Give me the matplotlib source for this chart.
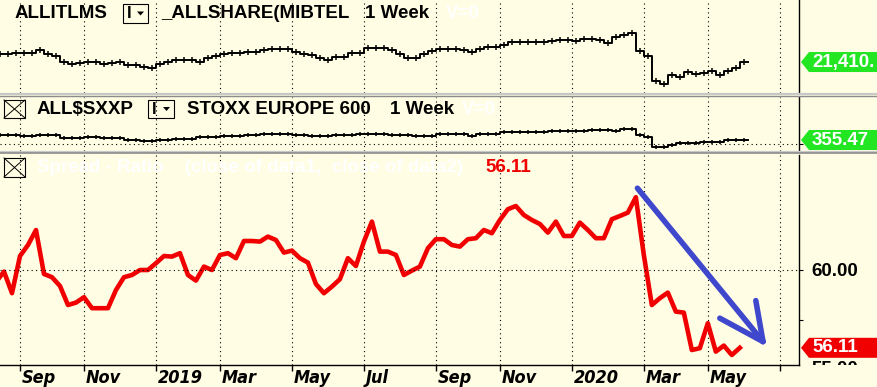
import numpy as np
import pandas as pd
import matplotlib
matplotlib.use('Agg')
import matplotlib.pyplot as plt
from matplotlib.patches import Rectangle, Polygon
from matplotlib.lines import Line2D
from matplotlib.transforms import Bbox

# weekly closes, first bar = 2018-08-17
first_week = '2018-08-17'

allshare = [22950, 22950, 23290, 23290, 23290, 23750, 23090, 22610, 21410, 21090,
            21290, 21490, 21490, 21090, 21150, 21410, 20890, 20750, 20410, 20150,
            20950, 21410, 21750, 21750, 21750, 21490, 22290, 22610, 23090, 23290,
            23290, 23490, 23490, 23750, 24090, 24090, 23950, 23410, 23090, 22810,
            22290, 21750, 22490, 22490, 23290, 23290, 24150, 24150, 24150, 23810,
            22950, 22290, 22290, 22950, 23610, 24090, 24090, 24090, 23810, 23410,
            24090, 24490, 24490, 24950, 25490, 25490, 25490, 25490, 25490, 25610,
            25950, 25950, 25690, 26150, 26150, 25950, 25290, 26490, 26950, 27290,
            23610, 22610, 17610, 16950, 18750, 18290, 19410, 18950, 19290, 19610,
            18750, 19610, 20290, 21410]

stoxx = [393, 393, 393, 385, 385, 395, 395, 391, 368, 368,
         368, 376, 376, 368, 368, 368, 355, 355, 346, 346,
         355, 355, 365, 365, 365, 380, 380, 380, 388, 388,
         388, 393, 393, 400, 400, 400, 400, 393, 393, 385,
         385, 385, 391, 391, 391, 400, 400, 400, 400, 391,
         391, 391, 385, 385, 385, 398, 398, 398, 398, 388,
         400, 400, 400, 413, 413, 413, 413, 413, 413, 425,
         425, 425, 425, 425, 433, 433, 433, 423, 438, 438,
         393, 378, 305, 305, 318, 335, 335, 335, 343, 343,
         343, 352, 354, 355.47]

spread = [59.40, 59.92, 58.84, 60.70, 61.25, 62.00, 59.80, 59.64, 59.20, 58.25,
          58.37, 58.64, 58.09, 58.09, 58.09, 59.00, 59.64, 59.75, 60.00, 60.00,
          60.34, 60.70, 60.67, 60.84, 59.75, 59.47, 60.17, 60.00, 60.75, 60.84,
          60.59, 61.45, 61.45, 61.42, 61.67, 61.50, 60.87, 60.97, 60.59, 60.37,
          59.30, 58.84, 59.17, 59.54, 60.59, 60.20, 61.42, 62.42, 60.92, 60.92,
          60.75, 59.75, 59.97, 60.17, 61.09, 61.54, 61.54, 61.25, 61.17, 61.54,
          61.59, 62.00, 61.84, 62.50, 63.04, 63.20, 62.75, 62.50, 62.30, 61.87,
          62.42, 61.70, 61.70, 62.37, 62.00, 61.59, 61.59, 62.54, 62.70, 62.87,
          63.64, 60.75, 58.25, 58.59, 58.87, 57.92, 57.87, 56.00, 56.09, 57.34,
          55.92, 56.22, 55.75, 56.11]

W, H = 878, 387
BG = '#FFFDE3'
GREEN = '#22E622'
RED = '#F00000'
BOLD = dict(family=['Liberation Sans', 'DejaVu Sans'], fontweight='bold')

n = len(spread)
x = np.arange(n)
weeks = pd.date_range(first_week, periods=101, freq='7D')

# first bar of every odd month -> vertical grid
tick_idx = [i for i in range(1, len(weeks))
            if weeks[i].month != weeks[i - 1].month and weeks[i].month % 2 == 1]


def fx(px):
    return px / W


def fy(py):
    return 1 - py / H


fig = plt.figure(figsize=(W / 100, H / 100), dpi=100, facecolor=BG)


def add_panel(top, bottom):
    ax = fig.add_axes([0, fy(bottom), 799 / W, (bottom - top) / H])
    ax.set_facecolor(BG)
    for s in ['top', 'left', 'bottom']:
        ax.spines[s].set_visible(False)
    ax.spines['right'].set_linewidth(1)
    ax.set_xlim(0.5, 100.4)
    ax.set_xticks(tick_idx)
    ax.grid(axis='x', color='black', linestyle=(0, (1, 3)), lw=0.8)
    ax.tick_params(axis='x', length=0, labelbottom=False)
    ax.set_yticks([])
    return ax


def step_line(ax, vals, ms):
    xs = np.append(x, x[-1] + 1)
    ys = np.append(vals, vals[-1])
    ax.plot(xs, ys, drawstyle='steps-post', color='black', lw=1.4)
    ax.plot(x + 0.5, vals, ls='none', marker='|', ms=ms, mew=1.1, color='black')


# top panel
ax1 = add_panel(0, 93)
step_line(ax1, allshare, 4)
ax1.set_ylim(15150, 33950)

# middle panel
ax2 = add_panel(97, 151)
step_line(ax2, stoxx, 3)
ax2.set_ylim(273, 678)
ax2.axhline(325, color='black', linestyle=(0, (1, 3)), lw=0.8)
ax2.set_yticks([325])
ax2.yaxis.tick_right()
ax2.tick_params(axis='y', length=3, labelright=False)

# spread panel
ax3 = add_panel(155, 365)
ax3.spines['bottom'].set_visible(True)
ax3.spines['bottom'].set_linewidth(1)
ax3.plot(x, spread, color=RED, lw=3.3, solid_joinstyle='round')
ax3.set_ylim(55.25, 65.75)
ax3.axhline(60, color='black', linestyle=(0, (1, 3)), lw=0.8)
ax3.yaxis.tick_right()
ax3.set_yticks([57.5, 60])
ax3.set_yticklabels(['', '60.00'])
ax3.tick_params(axis='y', length=3, pad=6, labelsize=13.5)
for t in ax3.get_yticklabels():
    t.set_fontweight('bold')
    t.set_family(['Liberation Sans', 'DejaVu Sans'])
ax3.tick_params(axis='x', length=4, width=1, direction='out')

for i in tick_idx:
    if i >= n:
        continue
    d = weeks[i]
    lab = str(d.year) if d.month == 1 else d.strftime('%b')
    ax3.annotate(lab, xy=(i, 0), xycoords=('data', 'axes fraction'),
                 xytext=(1.5, -3), textcoords='offset points', ha='left', va='top',
                 fontsize=13, fontweight='bold', fontstyle='italic', fontstretch='condensed',
                 family=['DejaVu Sans'], annotation_clip=False)

# hand-drawn downward arrow
arrow_kw = dict(color='#3F48CC', lw=4, solid_capstyle='round', clip_on=False)
ax3.plot([80.2, 95.9], [64.09, 56.42], **arrow_kw)
ax3.plot([90.5, 95.9], [57.59, 56.42], **arrow_kw)
ax3.plot([95.0, 95.9], [58.47, 56.42], **arrow_kw)

# panel separators
for py, col, lw in [(94.2, '#C8C8C8', 1.6), (95.8, '#8C8C8C', 1.0),
                    (151.8, '#C8C8C8', 1.6), (153.4, '#8C8C8C', 1.2)]:
    fig.add_artist(Line2D([0, 1], [fy(py)] * 2, transform=fig.transFigure, color=col, lw=lw))


def ypix(ax, value):
    return H - ax.transData.transform((0, value))[1]


# partly hidden 55.00 label, clipped at the panel bottom
t55 = fig.text(fx(811), fy(ypix(ax3, 55.0)), '55.00', va='center', ha='left',
               fontsize=13.5, zorder=5, **BOLD)
t55.set_clip_on(True)
t55.set_clip_box(Bbox([[800, H - 365], [W, H - 155]]))


def price_tag(ax, value, text, color):
    yp = ypix(ax, value)
    pts = [(801, yp), (809, yp - 10), (W + 2, yp - 10), (W + 2, yp + 10), (809, yp + 10)]
    fig.add_artist(Polygon([(fx(a), fy(b)) for a, b in pts], closed=True,
                           transform=fig.transFigure, fc=color, ec='none', zorder=6))
    fig.text(fx(812), fy(yp), text, color='white', va='center', ha='left',
             fontsize=13.5, zorder=7, **BOLD)


price_tag(ax1, allshare[-1], f'{allshare[-1]:,}.', GREEN)
price_tag(ax2, stoxx[-1], f'{stoxx[-1]:.2f}', GREEN)
price_tag(ax3, spread[-1], f'{spread[-1]:.2f}', RED)


def box(x0, y0, x1, y1, cross=False):
    fig.add_artist(Rectangle((fx(x0), fy(y1)), fx(x1 - x0), (y1 - y0) / H,
                             transform=fig.transFigure, fill=False, ec='black', lw=0.8))
    if cross:
        for a, b in [((x0, y0), (x1, y1)), ((x0, y1), (x1, y0))]:
            fig.add_artist(Line2D([fx(a[0]), fx(b[0])], [fy(a[1]), fy(b[1])],
                                  transform=fig.transFigure, color='black', lw=0.7))


def dropdown(x0, y0, x1, y1):
    box(x0, y0, x1, y1)
    yc = (y0 + y1) / 2
    fig.text(fx(x0 + 4), fy(yc), 'I', va='center', ha='left', fontsize=12, **BOLD)
    tri = [(x1 - 11, yc - 2), (x1 - 4, yc - 2), (x1 - 7.5, yc + 2)]
    fig.add_artist(Polygon([(fx(a), fy(b)) for a, b in tri], transform=fig.transFigure,
                           fc='black', ec='none'))


def header(items, y):
    for px, txt, col in items:
        fig.text(fx(px), fy(y), txt, color=col, va='center', ha='left', fontsize=13.5, **BOLD)


header([(15, 'ALLITLMS', 'black'), (161, '_ALLSHARE(MIBTEL', 'black'),
        (365, '1 Week', 'black'), (446, 'V=0', 'white')], 13)
dropdown(123, 4, 148, 23)

box(4, 100, 25, 118, cross=True)
header([(37, 'ALL\\$SXXP', 'black'), (187, 'STOXX EUROPE 600', 'black'),
        (390, '1 Week', 'black'), (462, 'V=0', 'white')], 109)
dropdown(148, 100, 174, 118)

box(4, 158, 25, 177, cross=True)
header([(37, 'Spread - Ratio    (close of data1,  close of data2)', 'white'),
        (485, f'{spread[-1]:.2f}', RED)], 168)

fig.savefig('out.png', dpi=100, facecolor=BG)
